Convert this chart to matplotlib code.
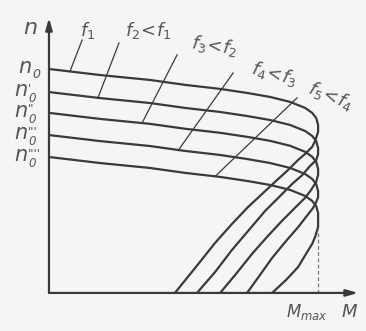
import matplotlib
matplotlib.use('Agg')
import matplotlib.pyplot as plt

# torque in % of M_max, speed in % of n0 (top curve)
M_f1 = [0, 19.0, 37.5, 50.6, 63.6, 73.6, 82.2, 89.6, 95.2, 97.8, 99.3, 100,
        100, 98.9, 97.8, 95.2, 92.6, 88.5, 84.0, 79.2, 74.0, 68.0, 61.7, 54.6, 46.8]
n_f1 = [100, 97.3, 95.1, 92.9, 91.1, 89.3, 87.5, 85.3, 82.6, 80.4, 78.1, 75.0,
        71.9, 67.9, 65.2, 62.1, 59.4, 54.5, 49.6, 44.2, 38.4, 30.8, 22.3, 11.6, 0]

M_f2 = [0, 19.0, 37.5, 50.6, 63.6, 73.6, 82.2, 89.6, 95.2, 97.8, 99.3, 100,
        100, 99.3, 97.0, 94.1, 90.3, 85.5, 80.3, 74.3, 68.0, 61.7, 55.0]
n_f2 = [89.7, 87.0, 84.8, 82.6, 80.8, 79.0, 77.2, 75.0, 72.3, 70.1, 67.8, 64.7,
        62.0, 59.3, 56.7, 52.6, 48.6, 42.8, 36.6, 28.1, 19.2, 9.3, 0]

M_f3 = [0, 19.0, 37.5, 50.6, 63.6, 73.6, 82.2, 89.6, 95.2, 97.8, 99.3, 100,
        100, 99.3, 97.4, 95.2, 91.4, 86.6, 81.4, 75.5, 69.5, 63.6]
n_f3 = [80.4, 77.7, 75.5, 73.3, 71.5, 69.7, 67.9, 65.7, 63.0, 60.8, 58.5, 55.4,
        52.7, 49.6, 46.0, 42.5, 38.0, 32.2, 25.5, 17.5, 8.5, 0]

M_f4 = [0, 19.0, 37.5, 50.6, 63.6, 73.6, 82.2, 89.6, 95.2, 97.8, 99.3, 100,
        100, 99.3, 98.1, 95.5, 92.6, 88.1, 82.9, 78.4, 73.6]
n_f4 = [70.5, 67.8, 65.6, 63.4, 61.6, 59.8, 58.0, 55.8, 53.1, 50.9, 48.6, 45.5,
        42.8, 40.6, 37.9, 33.9, 29.4, 23.2, 15.6, 8.0, 0]

M_f5 = [0, 19.0, 37.5, 50.6, 63.6, 73.6, 82.2, 89.6, 95.2, 97.8, 99.3, 100,
        100, 100, 98.9, 97.8, 95.5, 92.6, 88.1, 82.9]
n_f5 = [60.7, 58.0, 55.8, 53.6, 51.8, 50.0, 48.2, 46.0, 43.3, 41.1, 38.8, 35.7,
        33.0, 29.4, 25.0, 21.9, 17.4, 11.6, 5.8, 0]

n0_primes = ['', "'", "''", "'''", "''''"]
f_labels = [r'$f_1$', r'$f_2\!<\!f_1$', r'$f_3\!<\!f_2$', r'$f_4\!<\!f_3$', r'$f_5\!<\!f_4$']
M_max = 100

curves = [(M_f1, n_f1), (M_f2, n_f2), (M_f3, n_f3), (M_f4, n_f4), (M_f5, n_f5)]

ink = '#3a3a3a'
txt = '#555555'
bg = '#f5f5f3'

fig = plt.figure(figsize=(3.66, 3.31), dpi=100, facecolor=bg)
ax = fig.add_axes([0, 0, 1, 1])
ax.set_facecolor(bg)
ax.set_xlim(-18.2, 117.8)
ax.set_ylim(-17.0, 130.8)
ax.axis('off')

for M, n in curves:
    ax.plot(M, n, color=ink, lw=1.6, solid_joinstyle='round', solid_capstyle='round')

# axes with arrows
ax.annotate('', xy=(0, 122.8), xytext=(0, 0),
            arrowprops=dict(arrowstyle='-|>,head_length=0.7,head_width=0.2',
                            color=ink, lw=1.6, shrinkA=0, shrinkB=0))
ax.annotate('', xy=(114.9, 0), xytext=(0, 0),
            arrowprops=dict(arrowstyle='-|>,head_length=0.7,head_width=0.2',
                            color=ink, lw=1.6, shrinkA=0, shrinkB=0))
ax.plot([M_max, M_max], [0, 28], color='#777777', lw=0.9, ls=(0, (3, 2)))

# n0 labels on the left: n, then primes stacked over a subscript 0
n0_vals = [n_f1[0], n_f2[0], n_f3[0], n_f4[0], n_f5[0]]
for i, (pr, v) in enumerate(zip(n0_primes, n0_vals)):
    xr = -3.5 if i == 0 else -5.0
    ax.text(xr - 2.7, v + 0.8, r'$n$', ha='right', va='center', fontsize=15, color=txt)
    if pr:
        ax.text(xr - 2.7, v - 0.8, pr + '\n0', ha='left', va='center', fontsize=8.5,
                color=txt, fontstyle='italic', linespacing=0.65, multialignment='left')
    else:
        ax.text(xr - 2.7, v - 2.4, '0', ha='left', va='center', fontsize=9,
                color=txt, fontstyle='italic')

ax.text(-7.1, 118.5, r'$n$', ha='center', va='center', fontsize=16, color=txt)
ax.text(95.9, -8.5, r'$M_{max}$', ha='center', va='center', fontsize=12, color=txt)
ax.text(111.5, -8.5, r'$M$', ha='center', va='center', fontsize=13, color=txt)

# frequency labels with leader lines
lab_pos = [(14.5, 117.0, 0), (36.8, 117.4, 0), (61.3, 110.5, -8),
           (83.5, 98.0, -15), (104.5, 88.0, -22)]
leaders = [((12.3, 112.9), (7.8, 98.9)),
           ((26.0, 111.6), (18.2, 87.1)),
           ((47.6, 106.3), (34.6, 75.9)),
           ((68.4, 98.2), (48.0, 63.6)),
           ((92.2, 87.1), (61.7, 52.0))]
for lab, (x, y, r), (p0, p1) in zip(f_labels, lab_pos, leaders):
    ax.text(x, y, lab, ha='center', va='center', fontsize=13, color=txt, rotation=r)
    ax.plot([p0[0], p1[0]], [p0[1], p1[1]], color=ink, lw=0.9)

fig.savefig('out.png', dpi=100, facecolor=bg)
